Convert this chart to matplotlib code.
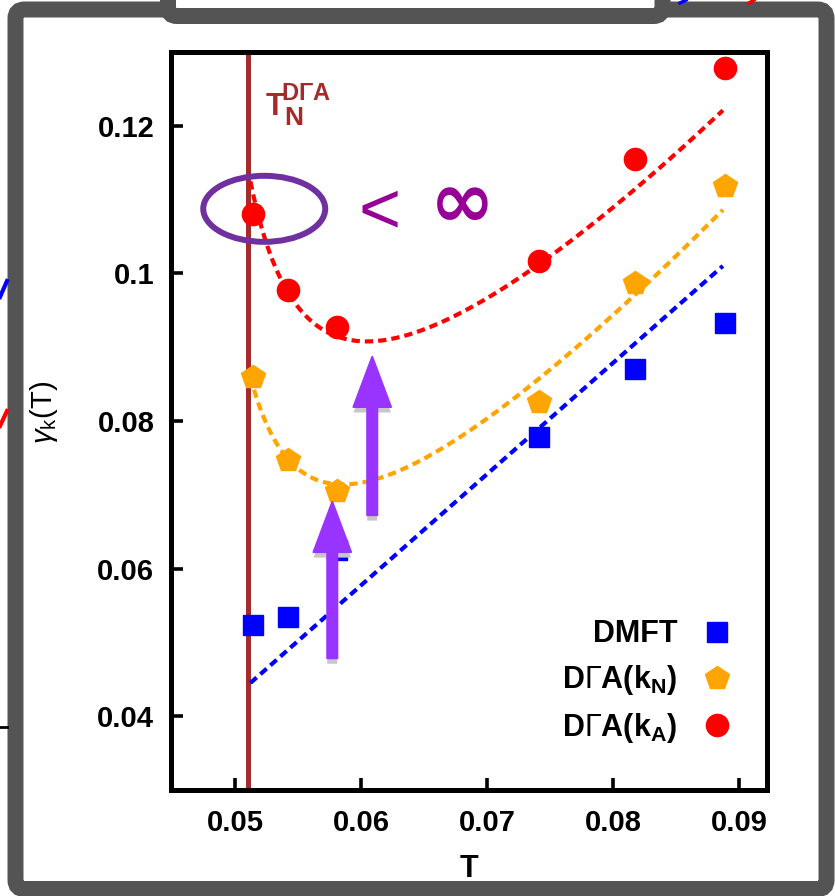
import numpy as np
import matplotlib
matplotlib.use("Agg")
import matplotlib.pyplot as plt
from matplotlib.patches import Ellipse, FancyBboxPatch, FancyArrowPatch
import matplotlib.patheffects as pe

plt.rcParams['font.family'] = ['Liberation Sans', 'DejaVu Sans']
plt.rcParams['mathtext.fontset'] = 'custom'
plt.rcParams['mathtext.rm'] = 'Liberation Sans'
plt.rcParams['mathtext.it'] = 'Liberation Sans:italic'
plt.rcParams['mathtext.bf'] = 'Liberation Sans:bold'

# temperatures of the simulations
temps = [0.0514, 0.0542, 0.0581, 0.0741, 0.0817, 0.0889]
# damping rate gamma_k(T) for each method
gamma_dmft = [0.0524, 0.0535, 0.0625, 0.0778, 0.0871, 0.0933]
gamma_dga_kn = [0.0860, 0.0747, 0.0705, 0.0826, 0.0987, 0.1118]
gamma_dga_ka = [0.1081, 0.0977, 0.0928, 0.1017, 0.1155, 0.1278]
# Neel temperature from DGA
t_neel = 0.0510

# fit curves: g(T) = a + b x + d x^2 + c / (T - T0), with x = T - 0.07
fit_ka = dict(T0=0.04540, a=0.08345028, b=1.550898, d=6.118726, c=3.248585e-4)
fit_kn = dict(T0=0.04530, a=0.06924179, b=1.676473, d=4.848869, c=2.745321e-4)
# linear fit of DMFT: g(T) = g0 + slope (T - T_ref)
fit_dmft = dict(T_ref=0.0512, g0=0.0445, slope=1.507)
fit_range = (0.0512, 0.0887)


def fit_curve(T, p):
    x = T - 0.07
    return p['a'] + p['b'] * x + p['d'] * x ** 2 + p['c'] / (T - p['T0'])


W, H = 835, 896
fig = plt.figure(figsize=(W / 100, H / 100), dpi=100)

# surrounding frame (pixel coordinates)
bg = fig.add_axes([0, 0, 1, 1], zorder=0)
bg.set_xlim(0, W); bg.set_ylim(H, 0); bg.axis('off')
frame_c = '#545454'
bg.add_patch(FancyBboxPatch((15.5, 9.5), 811, 879.5, boxstyle='round,pad=0,rounding_size=9',
                            fc='white', ec=frame_c, lw=16 * 0.72))
bg.add_patch(FancyBboxPatch((168, -60), 494.5, 76, boxstyle='round,pad=0,rounding_size=9',
                            fc='white', ec=frame_c, lw=16 * 0.72))
bg.plot([0, 7], [297, 281], color='blue', lw=3)
bg.plot([0, 7], [426, 411], color='red', lw=3)
bg.plot([0, 7], [727, 727], color='black', lw=2)
bg.plot([680, 686], [3, 0], color='blue', lw=2.5)
bg.plot([749, 754], [3, 0], color='red', lw=2.5)

ax = fig.add_axes([171 / W, 1 - 790 / H, 596 / W, 738 / H], zorder=1)
ax.set_facecolor('none')
ax.set_xlim(0.0449, 0.0922)
ax.set_ylim(0.03, 0.13)
for s in ax.spines.values():
    s.set_linewidth(3.6)
ax.tick_params(direction='in', length=8.5, width=2.6, labelsize=21, pad=14,
               top=False, right=False)
ax.tick_params(axis='y', pad=12)
ax.set_xticks([0.05, 0.06, 0.07, 0.08, 0.09], ['0.05', '0.06', '0.07', '0.08', '0.09'],
              fontweight='bold')
ax.set_yticks([0.04, 0.06, 0.08, 0.1, 0.12], ['0.04', '0.06', '0.08', '0.1', '0.12'],
              fontweight='bold')
ax.set_xlabel('T', fontsize=22, fontweight='bold')
ax.xaxis.set_label_coords(0.5, -0.087)
ax.set_ylabel(r'$\gamma_\mathregular{k}$(T)', fontsize=21)
ax.yaxis.set_label_coords(-0.186, 0.511)

brown = '#A52A2A'
ax.axvline(t_neel, color=brown, lw=3.6, zorder=1.5)

Tc = np.linspace(fit_range[0], fit_range[1], 300)
dash = (0, (2.0, 1.2))
ax.plot(Tc, fit_curve(Tc, fit_ka), color='red', lw=3, ls=dash, zorder=2)
ax.plot(Tc, fit_curve(Tc, fit_kn), color='orange', lw=3, ls=dash, zorder=2)
ax.plot(Tc, fit_dmft['g0'] + fit_dmft['slope'] * (Tc - fit_dmft['T_ref']),
        color='blue', lw=3, ls=dash, zorder=2)

hd, = ax.plot(temps, gamma_dmft, 's', color='blue', ms=15, zorder=3, label='DMFT')
hn, = ax.plot(temps, gamma_dga_kn, 'p', color='orange', ms=18, zorder=3,
              label=r'D$\Gamma$A(k$_\mathbf{N}$)')
ha, = ax.plot(temps, gamma_dga_ka, 'o', color='red', ms=16, zorder=3,
              label=r'D$\Gamma$A(k$_\mathbf{A}$)')
ax.legend(handles=[hd, hn, ha], loc='lower right', bbox_to_anchor=(0.941, 0.061),
          frameon=False, markerfirst=False, handlelength=1.0, handletextpad=0.78,
          labelspacing=0.45, borderpad=0, borderaxespad=0, numpoints=1,
          prop={'weight': 'bold', 'size': 22})

# T_N^{DGA} label next to the Neel line
ax.text(0.05238, 0.1215, 'T', color=brown, fontsize=22, fontweight='bold')
ax.text(0.05360, 0.12353, r'D$\mathbf{\Gamma}$A', color=brown, fontsize=17, fontweight='bold')
ax.text(0.05389, 0.12014, 'N', color=brown, fontsize=19, fontweight='bold')

# highlighted finite value at T_N
ax.add_patch(Ellipse((0.0523, 0.10875), 0.00968, 0.00895, fill=False,
                     ec='#7030A0', lw=4.3, zorder=4))
ax.text(0.06143, 0.1056, '<', color='#960096', fontsize=52, ha='center', va='baseline')
ax.text(0.06802, 0.1063, '\u221e', color='#960096', fontsize=56, fontweight='bold',
        family='DejaVu Sans', ha='center', va='baseline')

# arrows marking the minima
arrow_c = '#9933FF'
for x, y0, y1 in [(0.06087, 0.06725, 0.08868), (0.0577, 0.04786, 0.06902)]:
    a = FancyArrowPatch((x, y0), (x, y1),
                        arrowstyle='simple,head_length=36,head_width=27,tail_width=7.2',
                        mutation_scale=1, color=arrow_c, lw=1.5, joinstyle='round',
                        shrinkA=0, shrinkB=0, zorder=5)
    a.set_path_effects([pe.SimplePatchShadow(offset=(0, -4),
                                             shadow_rgbFace=(0.78, 0.78, 0.78), alpha=1),
                        pe.Normal()])
    ax.add_patch(a)

fig.savefig('out.png', dpi=100)
